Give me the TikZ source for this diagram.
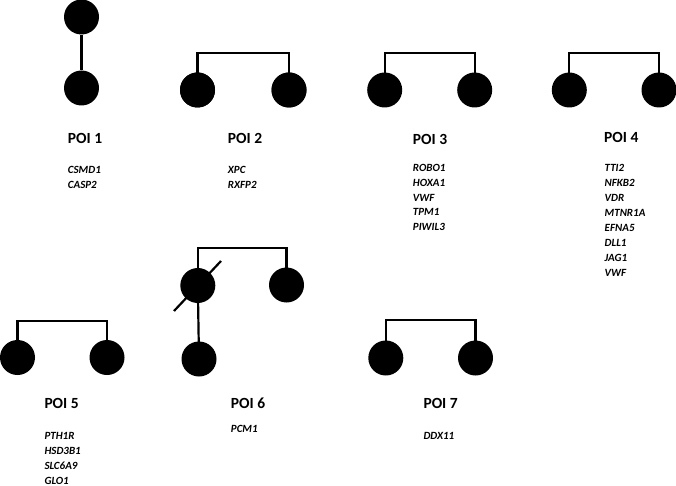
\documentclass[tikz,border=0pt]{standalone}
\usepackage{fontspec}
\setmainfont{Carlito}
\begin{document}
\begin{tikzpicture}[x=1pt,y=-1pt,
  person/.style={circle,fill=black,draw=none,minimum size=35pt,inner sep=0pt},
  link/.style={line width=2.2pt},
  poi/.style={anchor=west,inner sep=0pt,font=\fontsize{15.5}{18}\selectfont\bfseries},
  genes/.style={anchor=north west,inner sep=0pt,align=left,font=\fontsize{11}{15}\selectfont\bfseries\itshape}]
\useasboundingbox (0,0) rectangle (676,486);
% POI 1
\node[person] (c1a) at (81.5,17) {};
\node[person] (c1b) at (81.5,88) {};
\draw[link] (c1a) -- (c1b);
\node[poi] (l1) at (67.7,138) {POI 1};
\node[genes] (g1) at (67.7,166.5) {CSMD1\\CASP2};
% POI 2
\node[person] (c2a) at (197.5,90) {};
\node[person] (c2b) at (289,90) {};
\coordinate (t2) at (243,53);
\draw[link] (c2a.center) |- (t2) -| (c2b.center);
\node[person] at (c2a) {};
\node[person] at (c2b) {};
\node[poi] (l2) at (227.7,138) {POI 2};
\node[genes] (g2) at (227.7,166.5) {XPC\\RXFP2};
% POI 3
\node[person] (c3a) at (384.7,90) {};
\node[person] (c3b) at (474.7,90) {};
\coordinate (t3) at (430,53.3);
\draw[link] (c3a.center) |- (t3) -| (c3b.center);
\node[poi] (l3) at (412.7,139) {POI 3};
\node[genes,font=\fontsize{11}{14.6}\selectfont\bfseries\itshape] (g3) at (412.7,164.5) {ROBO1\\HOXA1\\VWF\\TPM1\\PIWIL3};
% POI 4
\node[person] (c4a) at (569.3,90) {};
\node[person] (c4b) at (659,90) {};
\coordinate (t4) at (614,53.3);
\draw[link] (c4a.center) |- (t4) -| (c4b.center);
\node[poi] (l4) at (604,137) {POI 4};
\node[genes] (g4) at (604.5,164.5) {TTI2\\NFKB2\\VDR\\MTNR1A\\EFNA5\\DLL1\\JAG1\\VWF};
% POI 5
\node[person] (c5a) at (17.5,357.5) {};
\node[person] (c5b) at (107,357.5) {};
\coordinate (t5) at (62,320.7);
\draw[link] (c5a.center) |- (t5) -| (c5b.center);
\node[poi] (l5) at (44.3,403) {POI 5};
\node[genes] (g5) at (44.3,432) {PTH1R\\HSD3B1\\SLC6A9\\GLO1};
% POI 6
\node[person] (c6a) at (197.8,285.5) {};
\node[person] (c6b) at (286.5,285) {};
\node[person] (c6c) at (199,359) {};
\coordinate (t6) at (242,248);
\draw[link] (c6a.center) |- (t6) -| (c6b.center);
\draw[link] (c6a.center) -- (c6c.center);
\coordinate (s1) at (174,311);
\coordinate (s2) at (221,261);
\draw[link] (s1) -- (s2);
\node[poi] (l6) at (230.7,403) {POI 6};
\node[genes] (g6) at (230.7,425.5) {PCM1};
% POI 7
\node[person] (c7a) at (385.8,358) {};
\node[person] (c7b) at (475.5,358) {};
\coordinate (t7) at (430,320);
\draw[link] (c7a.center) |- (t7) -| (c7b.center);
\node[poi] (l7) at (423.3,403) {POI 7};
\node[genes] (g7) at (423.3,432.5) {DDX11};
\end{tikzpicture}
\end{document}
